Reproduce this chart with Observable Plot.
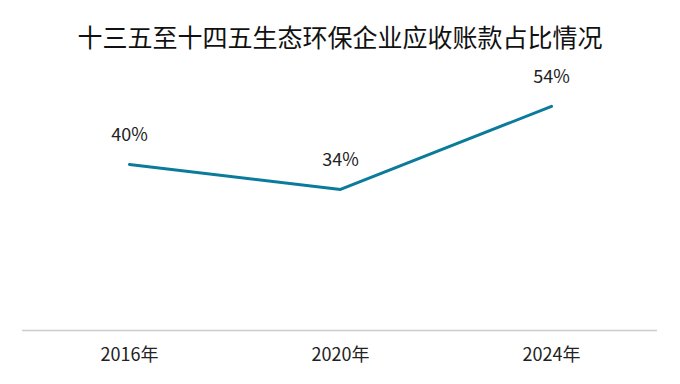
<!DOCTYPE html>
<html>
<head>
<meta charset="utf-8">
<script src="https://cdn.jsdelivr.net/npm/d3@7"></script>
<script src="https://cdn.jsdelivr.net/npm/@observablehq/plot@0.6"></script>
<style>
  body { margin: 0; background: #fff; font-family: "Noto Sans CJK SC", "Noto Sans", sans-serif; }
  #title { width: 680px; height: 30px; padding-top: 21px; padding-bottom: 11px; text-align: center; font-size: 25px; line-height: 30px; color: #111; }
</style>
</head>
<body>
<div id="title">十三五至十四五生态环保企业应收账款占比情况</div>
<div id="chart"></div>
<script>
const years = ["2016年", "2020年", "2024年"];
const shares = [40, 34, 54];
const labels = ["40%", "34%", "54%"];

const data = years.map((y, i) => ({year: y, value: shares[i], label: labels[i]}));

const chart = Plot.plot({
  width: 680,
  height: 322,
  marginLeft: 22,
  marginRight: 23,
  marginTop: 19,
  marginBottom: 54,
  style: {fontFamily: '"Noto Sans CJK SC", "Noto Sans", sans-serif', fontSize: "18px", color: "#222", background: "#fff"},
  x: {type: "point", domain: years, padding: 0.5, label: null, tickSize: 0, tickPadding: 18},
  y: {domain: [0, 60], axis: null},
  marks: [
    Plot.ruleY([0], {stroke: "#cccccc", strokeWidth: 1.5}),
    Plot.line(data, {x: "year", y: "value", stroke: "#0b7b9b", strokeWidth: 3}),
    Plot.text(data, {x: "year", y: "value", text: "label", dy: -29, fontSize: 18, fill: "#222"})
  ]
});
document.getElementById("chart").appendChild(chart);
</script>
</body>
</html>
